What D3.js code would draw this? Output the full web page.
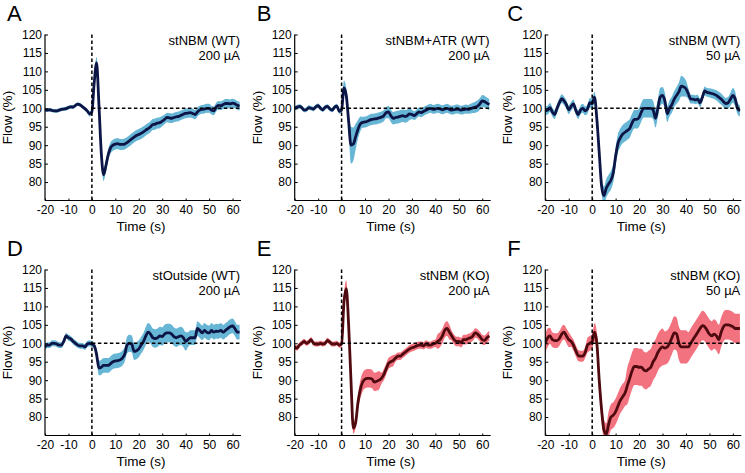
<!DOCTYPE html>
<html>
<head>
<meta charset="utf-8">
<script src="https://cdn.jsdelivr.net/npm/d3@7"></script>
<style>
html,body{margin:0;padding:0;background:#fff;}
svg{display:block;font-family:"Liberation Sans",Arial,sans-serif;}
</style>
</head>
<body>
<svg id="chart" width="745" height="473"></svg>
<script>
const time = [-20,-19,-18,-17,-16,-15,-14,-13,-12,-11,-10,-9,-8,-7,-6,-5,-4,-3,-2,-1,
  0,1,2,3,4,5,6,7,8,9,10,11,12,13,14,15,16,17,18,19,20,21,22,23,24,25,26,27,28,29,
  30,31,32,33,34,35,36,37,38,39,40,41,42,43,44,45,46,47,48,49,50,51,52,53,54,55,56,57,58,59,
  60,61,62,63];

const xTicks = [-20,-10,0,10,20,30,40,50,60];
const yTicks = [80,85,90,95,100,105,110,115,120];

const panelLetters = ["A","B","C","D","E","F"];
const panelTitles = ["stNBM (WT)","stNBM+ATR (WT)","stNBM (WT)","stOutside (WT)","stNBM (KO)","stNBM (KO)"];
const panelCurrents = ["200 µA","200 µA","50 µA","200 µA","200 µA","50 µA"];
const panelGenotype = ["WT","WT","WT","WT","KO","KO"];

const meanA = [99.6,99.5,99.6,99.4,99.3,99.3,99.5,99.7,99.8,99.9,100.2,100.4,100.3,100.8,101.1,100.9,100.4,99.9,99.3,98.5,
  99.0,107,112.3,101,88,82,84.5,87.5,89.3,90,
  90.3,90.4,90.2,90.2,90.3,90.7,91.2,91.7,92.2,92.6,
  92.9,93.2,93.6,94.1,94.5,95.0,95.6,95.7,96.0,96.1,
  96.5,97.0,97.5,97.4,97.3,97.5,97.7,97.8,98.1,98.4,
  98.6,98.7,98.8,98.6,98.3,99.0,99.5,99.7,99.8,100.0,
  100.0,99.5,99.3,100.3,100.8,100.7,101.0,101.3,101.3,101.2,
  101.4,101.2,100.8,100.6];
const semA = [0.5,0.5,0.5,0.5,0.5,0.5,0.5,0.5,0.5,0.5,0.5,0.5,0.5,0.5,0.5,0.5,0.5,0.5,0.6,0.7,
  0.8,1.6,1.7,1.6,1.6,1.7,1.6,1.5,1.5,1.5,
  1.5,1.5,1.5,1.5,1.5,1.5,1.5,1.5,1.5,1.5,
  1.5,1.5,1.5,1.5,1.5,1.5,1.5,1.5,1.5,1.5,
  1.4,1.3,1.3,1.3,1.3,1.3,1.3,1.3,1.3,1.3,
  1.3,1.3,1.3,1.3,1.3,1.2,1.2,1.2,1.2,1.2,
  1.2,1.2,1.2,1.2,1.2,1.2,1.2,1.2,1.2,1.2,
  1.2,1.2,1.2,1.2];

const meanB = [100.0,100.3,100.5,100.2,99.5,99.6,100.2,100.0,99.8,100.4,100.7,100.0,99.6,100.3,100.5,99.8,99.5,100.3,100.6,99.2,
  99.5,105.5,103.5,96.5,90.0,90.3,92.3,94.3,95.8,96.2,
  96.3,96.5,96.8,97.0,97.1,97.2,97.4,97.6,98.0,98.8,
  99.0,98.0,97.3,97.5,97.6,97.8,98.0,97.8,98.0,98.5,
  98.3,98.0,98.5,99.0,98.8,99.2,99.5,99.8,100.0,99.7,
  99.8,100.0,99.8,99.6,99.8,100.0,99.7,99.5,99.6,99.8,
  99.7,99.5,99.6,99.8,99.7,99.9,100.1,100.3,100.6,101.2,
  102.0,101.8,101.4,101.0];
const semB = [0.6,0.6,0.6,0.6,0.6,0.6,0.6,0.6,0.6,0.6,0.6,0.6,0.6,0.6,0.6,0.6,0.6,0.6,0.6,0.7,
  0.8,2.0,2.0,3.0,5.0,4.5,3.5,2.5,2.0,1.5,
  1.5,1.5,1.5,1.5,1.5,1.5,1.5,1.5,1.5,1.5,
  1.7,1.7,1.7,1.7,1.7,1.7,1.7,1.7,1.7,1.7,
  1.3,1.2,1.2,1.2,1.2,1.2,1.2,1.2,1.2,1.2,
  1.2,1.2,1.2,1.2,1.2,1.2,1.2,1.2,1.2,1.2,
  1.2,1.2,1.2,1.2,1.2,1.3,1.4,1.5,1.6,1.6,
  1.6,1.6,1.5,1.5];

const meanC = [99.3,99.5,100.2,99.0,98.3,100.0,101.5,102.6,102.0,101.0,99.6,100.5,101.2,99.5,98.3,99.5,100.0,99.3,99.8,101.5,
  101.2,103.0,97,88,79,76.3,78.3,79.5,80.5,82.5,
  87.0,90.5,92.0,93.0,93.5,94.0,94.5,96.0,97.0,97.0,
  97.5,99.0,100.0,100.0,100.0,100.0,99.5,97.3,100.0,103.0,
  103.5,102.0,98.5,100.0,101.0,102.5,103.5,104.5,106.0,105.8,
  105.3,104.0,102.5,102.5,102.3,102.5,101.5,103.0,104.7,104.3,
  104.2,104.0,103.8,103.5,103.0,102.5,101.8,101.3,101.5,102.5,
  103.5,102.5,100.0,99.3];
const semC = [1.2,1.2,1.2,1.2,1.2,1.2,1.2,1.2,1.2,1.2,1.2,1.2,1.2,1.2,1.2,1.2,1.2,1.2,1.2,1.3,
  1.5,1.5,2.0,2.0,2.0,2.5,2.5,2.5,2.5,2.5,
  2.5,2.5,2.5,2.5,2.5,2.5,2.5,2.5,2.5,2.5,
  2.5,2.5,2.5,2.5,2.5,2.5,2.5,2.5,2.5,2.5,
  2.3,2.2,2.2,2.2,2.2,2.2,2.3,2.5,2.8,2.6,
  2.2,1.5,1.2,1.2,1.2,1.2,1.2,1.2,1.2,1.2,
  1.2,1.3,1.3,1.4,1.5,1.5,1.5,1.5,1.6,1.8,
  2.0,2.0,1.6,1.5];

const meanD = [99.0,99.5,99.5,100.0,100.0,99.8,99.5,99.5,100.5,102.0,101.5,101.2,100.5,100.0,99.5,99.3,99.3,99.0,99.8,100.0,
  99.8,99.3,97.0,93.3,93.5,94.0,94.0,94.0,94.5,95.0,
  95.2,95.3,95.5,96.0,97.0,99.5,100.0,99.8,97.8,98.0,
  98.5,99.5,100.5,102.0,103.0,102.5,101.5,101.3,101.5,102.0,
  101.8,102.5,102.8,102.8,102.5,101.8,101.5,101.8,102.0,101.5,
  100.5,101.0,101.5,101.5,101.5,104.0,103.5,102.8,103.5,103.0,
  102.8,103.5,103.0,103.3,103.2,103.5,103.0,103.5,104.0,104.5,
  104.7,104.0,103.0,103.0];
const semD = [0.8,0.8,0.8,0.8,0.8,0.8,0.8,0.8,0.8,0.8,0.8,0.8,0.8,0.8,0.8,0.8,0.8,0.8,0.8,0.8,
  0.8,1.0,1.5,2.0,2.0,2.0,2.0,2.0,2.0,2.0,
  2.0,2.0,2.0,2.0,2.0,2.3,2.3,2.3,2.3,2.3,
  2.3,2.3,2.3,2.5,2.5,2.5,2.5,2.5,2.5,2.5,
  2.5,2.5,2.5,2.5,2.5,2.5,2.5,2.5,2.5,2.5,
  2.5,2.0,2.0,2.0,2.0,2.0,2.0,2.0,2.0,2.0,
  2.0,2.0,2.0,2.0,2.0,2.0,2.0,2.0,2.0,2.0,
  2.0,2.0,2.0,2.0];

const meanE = [99.0,98.7,99.5,100.0,100.5,100.0,100.3,101.0,100.0,99.8,99.8,100.0,99.8,100.0,100.8,100.3,99.8,99.8,100.0,99.5,
  99.8,111,114.8,105,90,77,78.5,84,87.5,89.5,
  90.3,90.5,90.5,90.3,89.5,89.7,90.0,90.5,91.5,93.0,
  94.5,95.0,95.3,96.0,96.5,96.5,97.0,97.5,98.0,98.5,
  98.8,99.0,99.3,99.5,99.5,99.3,99.8,99.5,99.5,99.8,
  100.0,100.5,101.0,102.0,103.5,104.0,103.0,102.0,101.0,100.5,
  100.5,100.2,101.0,101.0,101.3,101.5,102.0,102.8,102.5,101.8,
  101.0,100.8,101.5,102.0];
const semE = [0.7,0.7,0.7,0.7,0.7,0.7,0.7,0.7,0.7,0.7,0.7,0.7,0.7,0.7,0.7,0.7,0.7,0.7,0.7,0.7,
  1.0,2.0,2.2,1.5,1.5,1.5,1.5,2.0,2.5,2.5,
  2.5,2.5,2.5,2.5,2.5,2.5,2.5,1.5,1.5,1.5,
  1.5,1.5,1.5,1.0,1.0,1.0,1.0,1.0,1.0,1.0,
  1.0,1.0,1.0,1.0,1.0,1.0,1.0,1.0,1.0,1.0,
  1.0,2.0,2.0,2.0,2.0,2.0,2.0,1.3,1.3,1.3,
  1.3,1.3,1.3,1.3,1.3,1.3,1.3,1.3,1.3,1.3,
  1.3,1.3,1.3,1.3];

const meanF = [100.0,101.5,102.0,101.0,100.7,100.7,101.3,102.5,103.0,102.0,101.0,100.5,99.5,98.0,96.7,96.5,96.5,97.5,99.5,100.0,
  100.5,103.0,100.0,90.0,82.0,76.5,75.3,78.0,80.0,80.5,
  81.5,83.0,84.5,85.5,86.5,88.5,90.5,92.5,93.7,93.7,
  93.5,93.5,92.8,92.5,93.0,93.5,95.0,96.0,97.5,98.5,
  99.0,98.7,99.0,100.0,101.5,102.8,102.5,100.0,99.0,99.0,
  99.0,99.0,100.0,101.0,102.0,103.0,104.0,104.8,104.5,103.5,
  102.5,102.0,102.5,102.0,101.0,103.0,104.5,105.0,105.0,104.8,
  104.5,104.0,104.0,104.0];
const semF = [2.5,2.5,2.2,2.0,2.0,2.0,2.0,2.0,2.0,2.0,2.0,1.5,1.5,1.5,1.5,1.5,1.5,1.5,2.0,2.0,
  2.0,2.5,3.0,3.0,3.0,3.0,3.0,3.5,3.5,3.5,
  3.5,3.5,3.5,3.5,3.5,5.0,5.0,5.0,5.0,5.0,
  5.0,5.0,5.0,5.0,5.0,5.0,5.0,5.0,5.0,5.0,
  5.0,4.5,4.5,4.5,4.5,4.5,4.5,4.5,4.5,4.5,
  4.5,4.0,4.0,4.0,4.0,4.0,4.0,4.0,4.0,4.0,
  4.0,4.0,4.0,4.0,4.0,4.0,4.0,4.0,4.0,4.0,
  4.0,4.0,4.0,4.0];

const means = [meanA, meanB, meanC, meanD, meanE, meanF];
const sems = [semA, semB, semC, semD, semE, semF];

const colors = {
  WT: {band: "#67b6d6", line: "#0d1446"},
  KO: {band: "#f2727f", line: "#4f0a10"}
};

const svg = d3.select("#chart");
const colLeft = [45, 294.7, 545.3];
const rowTop = [34.5, 269.5];
const plotW = 196, plotH = 166;

panelLetters.forEach((letter, i) => {
  const col = i % 3, row = Math.floor(i / 3);
  const L = colLeft[col], T = rowTop[row];
  const x = d3.scaleLinear().domain([-20, 63.6]).range([L, L + plotW]);
  const y = d3.scaleLinear().domain([75, 120]).range([T + plotH, T]);
  const c = colors[panelGenotype[i]];
  const data = time.map((t, k) => ({t, m: means[i][k], s: sems[i][k]}));

  const clipId = "clip" + i;
  svg.append("clipPath").attr("id", clipId).append("rect")
    .attr("x", L).attr("y", T).attr("width", plotW + 1).attr("height", plotH);
  const g = svg.append("g").attr("clip-path", `url(#${clipId})`);

  g.append("path").datum(data)
    .attr("fill", c.band)
    .attr("d", d3.area().curve(d3.curveMonotoneX)
      .x(d => x(d.t)).y0(d => y(d.m - d.s)).y1(d => y(d.m + d.s)));

  // reference lines
  svg.append("line").attr("x1", x(0)).attr("x2", x(0)).attr("y1", T).attr("y2", T + plotH)
    .attr("stroke", "#000").attr("stroke-width", 1.5).attr("stroke-dasharray", "3.5,2.5");
  svg.append("line").attr("x1", x(0)).attr("x2", L + plotW).attr("y1", y(100)).attr("y2", y(100))
    .attr("stroke", "#000").attr("stroke-width", 1.5).attr("stroke-dasharray", "3.5,2.5");

  g.append("path").datum(data)
    .attr("fill", "none").attr("stroke", c.line).attr("stroke-width", 2.8)
    .attr("stroke-linejoin", "round")
    .attr("d", d3.line().curve(d3.curveMonotoneX).x(d => x(d.t)).y(d => y(d.m)));

  // axes
  const fmt = d => String(d);
  const yAxis = svg.append("g").attr("transform", `translate(${L},0)`)
    .call(d3.axisLeft(y).tickValues(yTicks).tickFormat(fmt).tickSize(-3).tickPadding(3));
  const xAxis = svg.append("g").attr("transform", `translate(0,${T + plotH})`)
    .call(d3.axisBottom(x).tickValues(xTicks).tickFormat(fmt).tickSize(-2).tickPadding(5));
  [yAxis, xAxis].forEach(a => {
    a.select(".domain").attr("stroke", "#000").attr("stroke-width", 1.2);
    a.selectAll(".tick line").attr("stroke", "#000").attr("stroke-width", 1);
    a.selectAll("text").attr("font-family", "'Liberation Sans', Arial, sans-serif")
      .attr("font-size", 12).attr("fill", "#000");
  });
  yAxis.select(".domain").attr("d", `M0,${T + plotH}V${T}`);
  xAxis.select(".domain").attr("d", `M${L},0H${L + plotW}`);

  svg.append("text").attr("x", L + plotW / 2 - 2).attr("y", T + plotH + 30.5)
    .attr("text-anchor", "middle").attr("font-size", 13.5).text("Time (s)");
  svg.append("text")
    .attr("transform", `translate(${L - 33},${T + plotH / 2}) rotate(-90)`)
    .attr("text-anchor", "middle").attr("font-size", 13.5).text("Flow (%)");

  svg.append("text").attr("x", L + plotW - 1).attr("y", T + 10.5)
    .attr("text-anchor", "end").attr("font-size", 13).text(panelTitles[i]);
  svg.append("text").attr("x", L + plotW - 1).attr("y", T + 25)
    .attr("text-anchor", "end").attr("font-size", 13).text(panelCurrents[i]);

  svg.append("text").attr("x", L - 38).attr("y", T - 14)
    .attr("font-size", 22).text(letter);
});
</script>
</body>
</html>
